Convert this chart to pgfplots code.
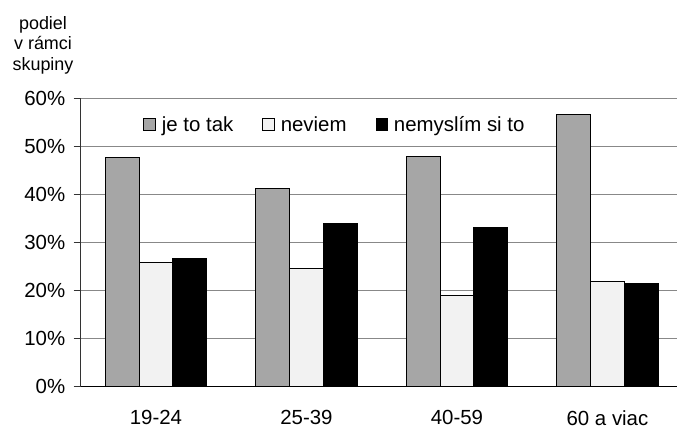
\documentclass[border=0pt]{standalone}
\usepackage{pgfplots}
\pgfplotsset{compat=1.18}
\usepackage{fontspec}
\setmainfont{Liberation Sans}
\definecolor{barg}{HTML}{A6A6A6}
\definecolor{barw}{HTML}{F2F2F2}
\definecolor{gridc}{HTML}{888888}
\definecolor{axc}{HTML}{333333}
\pgfplotsset{sqlegend/.style={legend image code/.code={\draw[##1] (0bp,-5.75bp) rectangle (11.5bp,5.75bp);}}}
\begin{document}
\begin{tikzpicture}
\begin{axis}[
  at={(80.7bp,41.3bp)}, anchor=south west,
  scale only axis, width=596bp, height=288bp,
  xmin=-0.5, xmax=3.46, ymin=0, ymax=60,
  ybar=0pt, bar width=33.7bp,
  axis x line*=bottom, axis y line*=left,
  x axis line style={black, line width=0.9bp, -},
  y axis line style={axc, line width=0.9bp, -},
  ymajorgrids, grid style={gridc, line width=0.9bp},
  ytick={0,10,...,60},
  yticklabels={0\%,10\%,20\%,30\%,40\%,50\%,60\%},
  xtick={0,1,2,3},
  xticklabels={19-24,25-39,40-59,60 a viac},
  major x tick style={draw=none},
  extra x ticks={0.5,1.5,2.5},
  extra x tick labels={},
  extra x tick style={grid=none, major tick length=7bp, tick style={axc, line width=0.9bp}},
  tick align=outside, major tick length=7bp,
  y tick style={axc, line width=0.9bp},
  tick label style={font=\fontsize{20.5}{24}\selectfont},
  /pgf/number format/assume math mode=true,
  yticklabel style={xshift=-5bp},
  xticklabel style={yshift=-13bp},
  legend columns=3,
  legend style={at={(0.105,0.91)}, anchor=west, draw=none, fill=none,
    inner sep=0pt, font=\fontsize{20.5}{24}\selectfont,
    /tikz/every odd column/.append style={column sep=4bp},
    /tikz/every even column/.append style={column sep=27bp}},
]
\addplot[fill=barg, draw=black, line width=0.9bp, sqlegend]
  coordinates {(0,47.7) (1,41.3) (2,48.0) (3,56.8)};
\addplot[fill=barw, draw=black, line width=0.9bp, sqlegend]
  coordinates {(0,25.9) (1,24.6) (2,19.0) (3,22.0)};
\addplot[fill=black, draw=black, line width=0.9bp, sqlegend]
  coordinates {(0,26.7) (1,34.1) (2,33.1) (3,21.5)};
\legend{je to tak, neviem, nemyslím si to}
\end{axis}
\node[anchor=base, font=\fontsize{18}{21}\selectfont, inner sep=0pt] at (43bp,398.7bp) {podiel};
\node[anchor=base, font=\fontsize{18}{21}\selectfont, inner sep=0pt] at (43bp,378bp) {v rámci};
\node[anchor=base, font=\fontsize{18}{21}\selectfont, inner sep=0pt] at (43bp,357.3bp) {skupiny};
\pgfresetboundingbox
\path (0,0) rectangle (677bp,428bp);
\end{tikzpicture}
\end{document}
